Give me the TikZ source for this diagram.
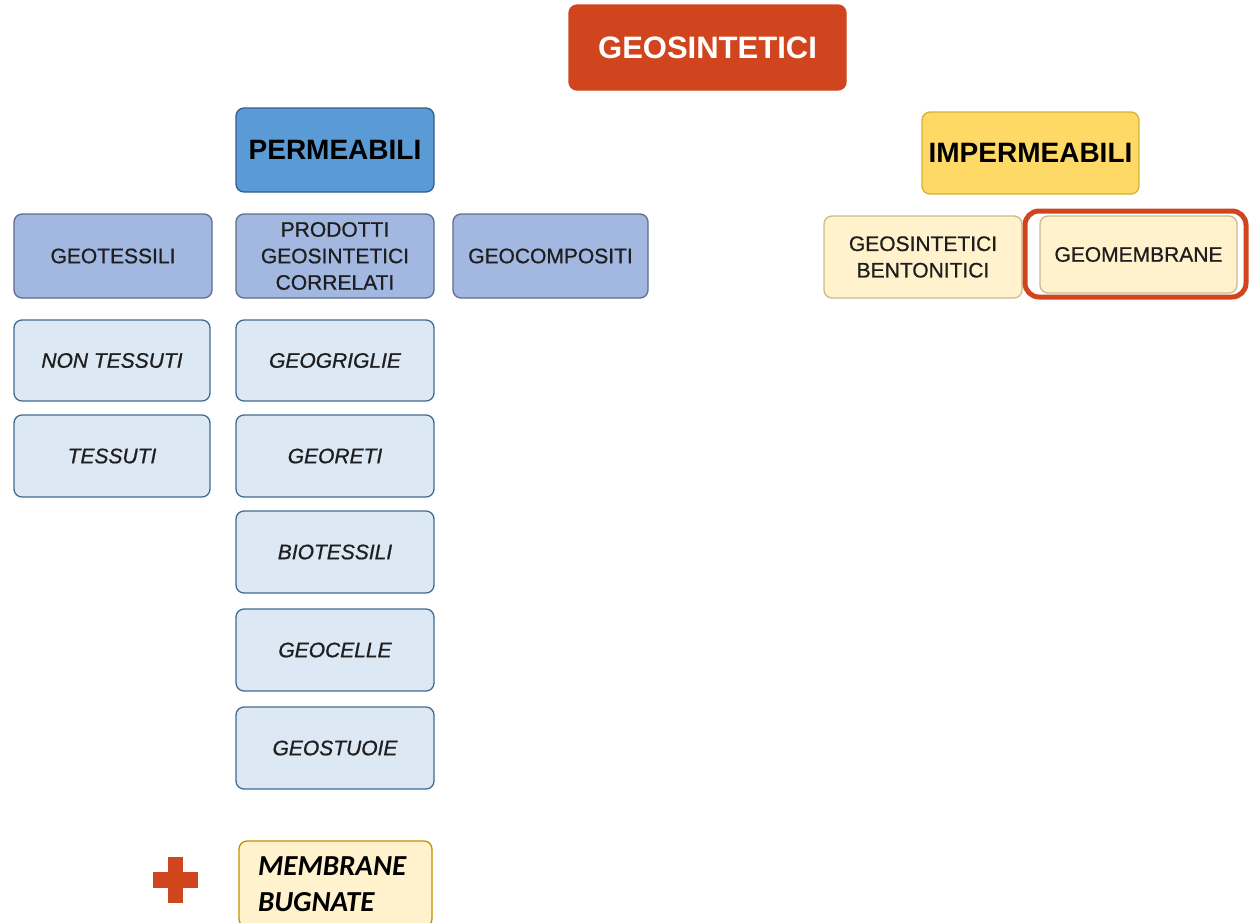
\documentclass[tikz,border=0pt]{standalone}
\usepackage{fontspec}
\setmainfont{Liberation Sans}
\newfontfamily\medfont{Liberation Sans}[FakeBold=0.8]
\newfontfamily\carl{Carlito}
\definecolor{redor}{HTML}{D0451E}
\definecolor{permfill}{HTML}{5B9BD5}
\definecolor{permdraw}{HTML}{2F5F8A}
\definecolor{midfill}{HTML}{A2B8E0}
\definecolor{middraw}{HTML}{5E6E8A}
\definecolor{litefill}{HTML}{DDE8F5}
\definecolor{litedraw}{HTML}{3E6C90}
\definecolor{impfill}{HTML}{FFD966}
\definecolor{impdraw}{HTML}{D6B030}
\definecolor{yelfill}{HTML}{FFF2CC}
\definecolor{yeldraw}{HTML}{C9BB8A}
\definecolor{golddraw}{HTML}{C09000}
\definecolor{txt}{HTML}{1E1E1E}
\begin{document}
\begin{tikzpicture}[x=1pt,y=-1pt,
  box/.style={rounded corners=8pt,line width=1.3pt,inner sep=0pt,align=center,text=txt,
     font=\medfont\fontsize{21}{26.5}\selectfont},
  redbox/.style={box,fill=redor,draw=redor,text=white,font=\fontsize{31}{34}\selectfont\bfseries},
  permbox/.style={box,fill=permfill,draw=permdraw,text=black,font=\fontsize{28}{30}\selectfont\bfseries},
  impbox/.style={box,fill=impfill,draw=impdraw,text=black,font=\fontsize{28}{30}\selectfont\bfseries},
  midbox/.style={box,fill=midfill,draw=middraw},
  litebox/.style={box,fill=litefill,draw=litedraw,font=\medfont\fontsize{21}{24}\selectfont\itshape},
  yelbox/.style={box,fill=yelfill,draw=yeldraw},
  bugbox/.style={box,fill=yelfill,draw=golddraw,align=left,font=\carl\fontsize{29}{36}\selectfont\bfseries\itshape,text=black},
  sz/.style n args={2}{minimum width=#1pt,minimum height=#2pt}
]
\useasboundingbox (0,0) rectangle (1250,922);
\clip (0,0) rectangle (1250,922);
\node[redbox,sz={277}{85}] (geo) at (707.5,47.5) {GEOSINTETICI};
\node[permbox,sz={198}{84}] (perm) at (335,150) {PERMEABILI};
\node[impbox,sz={217}{82}] (imp) at (1030.5,153) {IMPERMEABILI};
\node[midbox,sz={198}{84}] (gtess) at (113,256) {GEOTESSILI};
\node[midbox,sz={198}{84}] (prod) at (335,256) {PRODOTTI\\GEOSINTETICI\\CORRELATI};
\node[midbox,sz={195}{84}] (gcomp) at (550.5,256) {GEOCOMPOSITI};
\node[litebox,sz={196}{81}] (nont) at (112,360.5) {NON TESSUTI};
\node[litebox,sz={196}{82}] (tess) at (112,456) {TESSUTI};
\node[litebox,sz={198}{81}] (ggr) at (335,360.5) {GEOGRIGLIE};
\node[litebox,sz={198}{82}] (gret) at (335,456) {GEORETI};
\node[litebox,sz={198}{82}] (biot) at (335,552) {BIOTESSILI};
\node[litebox,sz={198}{82}] (gcel) at (335,650) {GEOCELLE};
\node[litebox,sz={198}{82}] (gstu) at (335,748) {GEOSTUOIE};
\node[yelbox,sz={198}{82}] (bent) at (923,257) {GEOSINTETICI\\BENTONITICI};
\node[yelbox,sz={197}{77}] (gmem) at (1138.5,254.5) {GEOMEMBRANE};
\draw[redor,line width=5pt,rounded corners=14pt] (1025,211) rectangle (1246,297);
\node[bugbox,sz={193}{86},text width=155pt] (bug) at (335.5,884) {MEMBRANE\\BUGNATE};
\fill[redor] (168,857) rectangle (183,903);
\fill[redor] (153,872) rectangle (198,888);
\end{tikzpicture}
\end{document}
